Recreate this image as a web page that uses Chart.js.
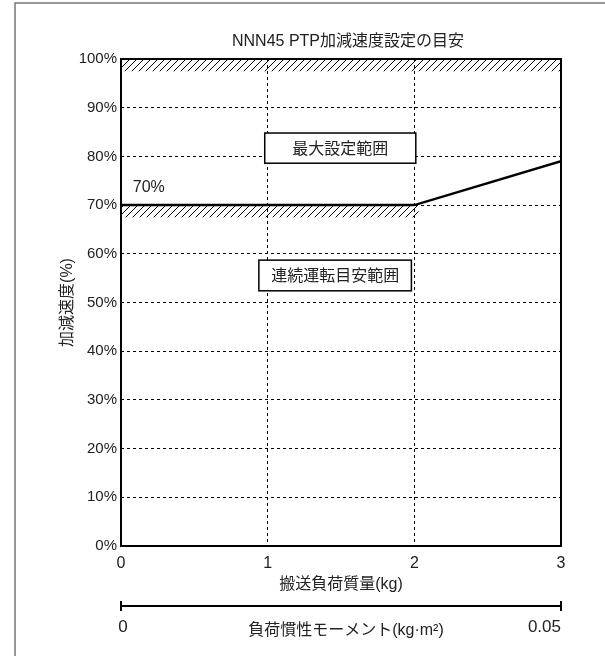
<!DOCTYPE html>
<html>
<head>
<meta charset="utf-8">
<script src="https://cdn.jsdelivr.net/npm/chart.js@4"></script>
<style>
  html, body { margin: 0; padding: 0; background: #fff; }
</style>
</head>
<body>
<canvas id="accelChart" width="605" height="656"></canvas>
<script>
// data
const massTicks = [0, 1, 2, 3];                 // kg
const accelTicks = [0, 10, 20, 30, 40, 50, 60, 70, 80, 90, 100];
const limitMass = [0, 2, 3];
const limitAccel = [70, 70, 79];
const maxBandMass = [0, 3];
const maxBandAccel = [100, 100];
const maxBandFloor = 97.5;
const contBandMass = [0, 2.03];
const contBandAccel = [70, 70];
const contBandFloor = 67.5;
const inertiaTicks = [0, 0.05];                 // kg·m²
const inertiaMax = 0.05;

const titleText = 'NNN45 PTP加減速度設定の目安';
const maxRangeLabel = '最大設定範囲';
const contRangeLabel = '連続運転目安範囲';
const limitLabel = '70%';

const FONT = "'Liberation Sans', 'Noto Sans CJK JP', sans-serif";
const TEXT = '#222';

function toPoints(xs, ys) {
  return xs.map((x, i) => ({x: x, y: ys[i]}));
}

function hatch() {
  const c = document.createElement('canvas');
  c.width = 7; c.height = 7;
  const g = c.getContext('2d');
  g.strokeStyle = '#000';
  g.lineWidth = 1;
  g.beginPath();
  g.moveTo(-1, 8); g.lineTo(8, -1);
  g.stroke();
  return g.createPattern(c, 'repeat');
}

const extras = {
  id: 'extras',
  afterDatasetsDraw(chart) {
    const ctx = chart.ctx;
    const a = chart.chartArea;
    const xs = chart.scales.x, ys = chart.scales.y, x2 = chart.scales.x2;
    ctx.save();

    // plot frame
    ctx.strokeStyle = '#000';
    ctx.lineWidth = 2;
    ctx.strokeRect(a.left, a.top, a.right - a.left, a.bottom - a.top);

    // labelled boxes
    const box = (text, x0, x1, y0, y1) => {
      const l = xs.getPixelForValue(x0), r = xs.getPixelForValue(x1);
      const t = ys.getPixelForValue(y0), b = ys.getPixelForValue(y1);
      ctx.fillStyle = '#fff';
      ctx.fillRect(l, t, r - l, b - t);
      ctx.lineWidth = 1.5;
      ctx.strokeStyle = '#000';
      ctx.strokeRect(l, t, r - l, b - t);
      ctx.fillStyle = TEXT;
      ctx.font = '16px ' + FONT;
      ctx.textAlign = 'center';
      ctx.textBaseline = 'middle';
      ctx.fillText(text, (l + r) / 2, (t + b) / 2 + 1);
    };
    box(maxRangeLabel, 0.98, 2.01, 84.8, 78.6);
    box(contRangeLabel, 0.94, 1.98, 58.7, 52.4);

    // 70% label
    ctx.fillStyle = TEXT;
    ctx.font = '16px ' + FONT;
    ctx.textAlign = 'left';
    ctx.textBaseline = 'middle';
    ctx.fillText(limitLabel, xs.getPixelForValue(0.08), ys.getPixelForValue(73.6));

    // chart title
    ctx.font = '16px ' + FONT;
    ctx.textAlign = 'center';
    ctx.fillText(titleText, (a.left + a.right) / 2 + 7, 42);

    // secondary axis: load inertia
    const ay = a.bottom + 60;
    const l = x2.getPixelForValue(inertiaTicks[0]);
    const r = x2.getPixelForValue(inertiaTicks[inertiaTicks.length - 1]);
    ctx.strokeStyle = '#000';
    ctx.lineWidth = 2;
    ctx.beginPath();
    ctx.moveTo(l, ay); ctx.lineTo(r, ay);
    ctx.moveTo(l, ay - 5); ctx.lineTo(l, ay + 5);
    ctx.moveTo(r, ay - 5); ctx.lineTo(r, ay + 5);
    ctx.stroke();
    ctx.font = '17px ' + FONT;
    inertiaTicks.forEach((v, i) => {
      ctx.textAlign = i === 0 ? 'center' : 'right';
      ctx.fillText(String(v), x2.getPixelForValue(v) + (i === 0 ? 2 : 0), ay + 21);
    });
    ctx.font = '16px ' + FONT;
    ctx.textAlign = 'center';
    ctx.fillText('負荷慣性モーメント(kg·m²)', (l + r) / 2 + 5, ay + 25);

    // outer frame (top and left edges visible)
    ctx.strokeStyle = '#777';
    ctx.lineWidth = 1.5;
    ctx.beginPath();
    ctx.moveTo(15, chart.height); ctx.lineTo(15, 3); ctx.lineTo(chart.width, 3);
    ctx.stroke();

    ctx.restore();
  }
};

Chart.defaults.font.family = FONT;
Chart.defaults.color = TEXT;

const pattern = hatch();
const ctx = document.getElementById('accelChart').getContext('2d');
const chart = new Chart(ctx, {
  type: 'line',
  data: {
    datasets: [
      {
        data: toPoints(maxBandMass, maxBandAccel),
        fill: {value: maxBandFloor},
        backgroundColor: pattern,
        borderWidth: 0,
        pointRadius: 0,
        order: 3
      },
      {
        data: toPoints(contBandMass, contBandAccel),
        fill: {value: contBandFloor},
        backgroundColor: pattern,
        borderWidth: 0,
        pointRadius: 0,
        order: 2
      },
      {
        data: toPoints(limitMass, limitAccel),
        borderColor: '#000',
        borderWidth: 2.5,
        fill: false,
        pointRadius: 0,
        tension: 0,
        order: 1
      }
    ]
  },
  options: {
    responsive: false,
    animation: false,
    layout: {padding: {top: 59, right: 44, left: 0, bottom: 0}},
    plugins: {
      legend: {display: false},
      tooltip: {enabled: false},
      title: {display: false}
    },
    scales: {
      x: {
        type: 'linear',
        min: massTicks[0],
        max: massTicks[massTicks.length - 1],
        afterBuildTicks: s => { s.ticks = massTicks.map(v => ({value: v})); },
        afterFit: s => { s.height = 110; },
        ticks: {padding: 8, font: {size: 16}, maxRotation: 0},
        grid: {color: '#000', lineWidth: 1, drawTicks: false},
        border: {display: false, dash: [3, 3]},
        title: {
          display: true,
          text: '搬送負荷質量(kg)',
          font: {size: 16},
          padding: {top: 0, bottom: 62}
        }
      },
      x2: {
        type: 'linear',
        display: false,
        position: 'bottom',
        min: 0,
        max: inertiaMax
      },
      y: {
        min: 0,
        max: 100,
        afterBuildTicks: s => { s.ticks = accelTicks.map(v => ({value: v})); },
        afterFit: s => { s.width = 121; },
        ticks: {padding: 4, font: {size: 15}, callback: v => v + '%'},
        grid: {color: '#000', lineWidth: 1, drawTicks: false},
        border: {display: false, dash: [3, 3]},
        title: {
          display: true,
          text: '加減速度(%)',
          font: {size: 16},
          padding: {top: 58, bottom: 0}
        }
      }
    }
  },
  plugins: [extras]
});
</script>
</body>
</html>
